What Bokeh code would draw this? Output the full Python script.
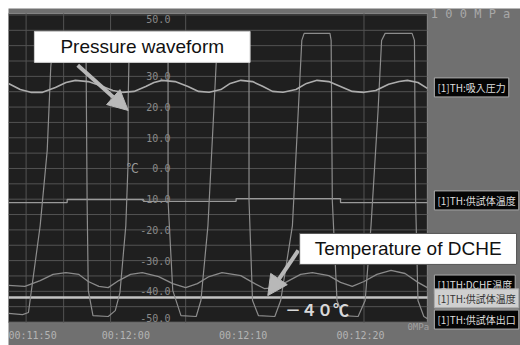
from bokeh.plotting import figure
from bokeh.models import Range1d, Label, Arrow, NormalHead
from bokeh.embed import file_html
from bokeh.resources import INLINE
from bokeh.core.properties import value

# ---------------- data ----------------
time_ticks = [710, 720, 730, 740]
time_labels = ["00:11:50", "00:12:00", "00:12:10", "00:12:20"]
temp_ticks = [40, 30, 20, 10, 0, -10, -20, -30, -40]
temp_top, temp_bottom = 50, -50
grid_times = [711.5, 714.7, 718.7, 725.1, 740.3]
grid_temps = list(range(-50, 51, 5))

# recorder window (time span shown, temperature span shown)
t_start, t_end = 710.0, 745.7
v_low, v_high = -50.2, 50.5

# pressure waveform (MPa, 0..100 MPa scale)
press_t = [710.0, 711.0, 711.9, 712.9, 714.0, 714.9, 715.7, 716.8, 717.8, 718.9,
           719.7, 720.7, 721.7, 722.4, 723.1, 724.2, 725.3, 726.2, 727.1, 728.1,
           728.9, 729.8, 730.8, 731.7, 732.5, 733.4, 734.5, 735.4, 736.3, 737.3,
           738.3, 739.3, 740.3, 741.3, 742.4, 743.3, 744.0, 744.9, 745.7]
press_mpa = [77.7, 75.7, 74.8, 74.8, 76.4, 78.0, 78.7, 78.3, 77.0, 75.4,
             74.8, 75.1, 76.7, 78.0, 78.7, 78.3, 76.7, 75.1, 74.8, 75.7,
             77.7, 78.7, 78.3, 76.7, 75.1, 74.8, 75.7, 77.7, 78.7, 78.3,
             76.7, 75.1, 74.8, 75.4, 77.4, 78.3, 78.7, 78.0, 76.1]

# specimen temperature (square-ish cycling)
t1_t = [710.0, 711.2, 711.7, 712.7, 713.3, 713.6, 713.8, 714.0, 716.5, 716.6,
        716.7, 716.8, 717.2, 718.5, 719.1, 719.5, 720.0, 720.2, 720.2, 720.3,
        720.5, 723.5, 723.6, 723.6, 724.0, 724.7, 726.0, 726.4, 727.0, 727.5,
        727.8, 727.9, 730.4, 730.5, 730.5, 730.8, 731.3, 732.7, 733.2, 734.2,
        734.7, 735.0, 735.2, 737.4, 737.5, 737.6, 738.0, 738.5, 739.8, 740.4,
        740.9, 741.5, 741.8, 742.1, 744.4, 744.6, 744.7, 744.9, 745.4, 745.7]
t1_v = [-47.2, -47.6, -46.9, -18.6, 5.9, 32.9, 41.7, 44.0, 44.0, 41.7,
        -10.4, -39.7, -47.9, -48.2, -46.3, -40.4, -18.6, 2.6, 22.1, 41.7,
        44.0, 44.0, 41.7, -10.4, -39.7, -47.9, -48.2, -43.0, -18.6, 18.9,
        41.7, 44.0, 44.0, 41.7, -10.4, -43.0, -47.9, -48.2, -43.0, -18.6,
        18.9, 41.7, 44.0, 44.0, 41.7, -10.4, -43.0, -47.9, -48.2, -43.0,
        -18.6, 18.9, 41.7, 44.0, 44.0, 41.7, -10.4, -43.0, -48.2, -48.9]

# DCHE temperature
dche_t = [710.0, 711.4, 712.7, 713.8, 714.9, 716.0, 716.8, 717.7, 718.5, 719.4,
          720.4, 721.4, 722.8, 724.0, 725.1, 726.1, 727.1, 728.2, 729.8, 730.8,
          731.8, 732.8, 733.9, 734.9, 735.9, 737.3, 738.3, 739.3, 740.3, 741.4,
          742.6, 743.8, 744.9, 745.7]
dche_v = [-38.1, -38.4, -36.5, -34.5, -33.9, -34.5, -36.8, -38.4, -38.8, -36.5,
          -34.5, -33.9, -35.2, -37.5, -38.8, -37.5, -35.2, -33.9, -34.9, -37.1,
          -39.1, -38.8, -36.5, -34.5, -33.9, -34.9, -37.1, -38.4, -36.8, -34.5,
          -33.2, -34.2, -37.1, -38.8]

# near-constant channel
flat_t = [710.0, 715.0, 721.5, 729.4, 738.3, 745.7]
flat_v = [-11.1, -10.1, -10.7, -9.8, -11.1, -11.1]

# -40 C reference line
ref_t = [710.0, 745.7]
ref_v = [-42.0, -42.0]

channel_names = ["[1]TH:吸入圧力", "[1]TH:供試体温度", "[1]TH:DCHE温度",
                 "[1]TH:供試体温度", "[1]TH:供試体出口"]
channel_y = [26.4, -10.4, -37.8, -42.3, -49.2]

# ---------------- figure ----------------
FRAME_BG = "#1f1f1f"
PANEL_BG = "#707070"
GRID = "#535353"

# whole canvas is the frame: recorder area + grey side/bottom panels
x_lo, x_hi = 710.0, 753.64
y_lo, y_hi = -57.65, 52.1

p = figure(width=512, height=337, output_backend="svg", toolbar_location=None,
           x_range=Range1d(x_lo, x_hi), y_range=Range1d(y_lo, y_hi),
           x_axis_location=None, y_axis_location=None, margin=(8, 0, 0, 8),
           min_border_left=0, min_border_right=0, min_border_top=0, min_border_bottom=0)
p.extra_y_ranges = {"press": Range1d(y_lo + 50, y_hi + 50)}
p.background_fill_color = PANEL_BG
p.border_fill_color = PANEL_BG
p.outline_line_color = None
p.grid.visible = False

# dark recorder area
p.quad(left=[t_start], right=[t_end], bottom=[v_low], top=[v_high],
       fill_color=FRAME_BG, line_color="#8a8a8a", line_width=1)

# grid
p.segment(x0=grid_times, y0=[v_low] * len(grid_times), x1=grid_times,
          y1=[v_high] * len(grid_times), line_color=GRID, line_width=1)
p.segment(x0=[t_start] * len(grid_temps), y0=grid_temps, x1=[t_end] * len(grid_temps),
          y1=grid_temps, line_color=GRID, line_width=1)

# traces
p.line(ref_t, ref_v, line_color="#c4c4c4", line_width=2.5)
p.step(flat_t, flat_v, mode="after", line_color="#9a9a9a", line_width=1.3)
p.line(dche_t, dche_v, line_color="#8a8a8a", line_width=1.3)
p.line(t1_t, t1_v, line_color="#8c8c8c", line_width=1.2)
p.line(press_t, press_mpa, y_range_name="press", line_color="#adadad", line_width=1.6)

# in-plot scale labels
lab_x = 723.8
mono = value("DejaVu Sans Mono")
p.text([lab_x] * len(temp_ticks), temp_ticks, text=["%.1f" % v for v in temp_ticks],
       text_align="right", text_baseline="middle", text_font=mono,
       text_font_size="10px", text_color="#8a8a8a")
p.text([lab_x], [temp_top], text=["%.1f" % temp_top], text_align="right", text_baseline="top",
       text_font=mono, text_font_size="10px", text_color="#8a8a8a")
p.text([lab_x], [temp_bottom], text=["%.1f" % temp_bottom], text_align="right",
       text_baseline="bottom", text_font=mono, text_font_size="10px", text_color="#8a8a8a")
p.text([720.6], [0.3], text=["℃"], text_align="center", text_baseline="middle",
       text_font=value("Noto Sans CJK JP"), text_font_size="12px", text_color="#9a9a9a")

# time labels in the bottom strip
time_row = -54.4
p.text(time_ticks[:1], [time_row], text=time_labels[:1], text_align="left",
       text_baseline="middle", text_font=mono, text_font_size="10px", text_color="#b4b4b4")
p.text(time_ticks[1:], [time_row] * (len(time_ticks) - 1), text=time_labels[1:],
       text_align="center", text_baseline="middle", text_font=mono, text_font_size="10px",
       text_color="#b4b4b4")

# -40C marker text
p.add_layout(Label(x=736.3, y=-45.9, text="－４０℃", text_align="center", text_baseline="middle",
                   text_font="Noto Sans CJK JP", text_font_style="bold", text_font_size="16px",
                   text_color="#d8d8d8"))

# arrows
head_col = "#b8b8b8"
p.add_layout(Arrow(end=NormalHead(size=20, fill_color=head_col, line_color=head_col),
                   x_start=715.9, y_start=33.6, x_end=720.2, y_end=18.9,
                   line_color=head_col, line_width=4))
p.add_layout(Arrow(end=NormalHead(size=20, fill_color=head_col, line_color=head_col),
                   x_start=734.7, y_start=-26.7, x_end=732.1, y_end=-41.4,
                   line_color=head_col, line_width=4))

# callout boxes
p.add_layout(Label(x=721.4, y=39.6, text="Pressure waveform", text_align="center",
                   text_baseline="middle", text_font="Liberation Sans", text_font_size="19px",
                   text_color="#111111", background_fill_color="white",
                   border_line_color="#d0d0d0", padding=(26, 5)))
p.add_layout(Label(x=744.06, y=-26.2, text="Temperature of DCHE", text_align="center",
                   text_baseline="middle", text_font="Liberation Sans", text_font_size="19px",
                   text_color="#111111", background_fill_color="white",
                   border_line_color="#555555", padding=(15, 5)))

# right panel channel tags
for i, (name, yv) in enumerate(zip(channel_names, channel_y)):
    sel = (i == 3)
    p.add_layout(Label(x=746.3, y=yv, text=name, text_align="left", text_baseline="middle",
                       text_font="Noto Sans CJK JP", text_font_size="10px",
                       text_color="#333333" if sel else "#dddddd",
                       background_fill_color="#cfcfcf" if sel else "#050505",
                       border_line_color="#aaaaaa", padding=(3, 2)))

# scale end labels
p.add_layout(Label(x=746.0, y=50.2, text="1 0 0 M P a", text_align="left", text_baseline="middle",
                   text_font="DejaVu Sans Mono", text_font_size="12px", text_color="#a8a8a8"))
p.add_layout(Label(x=744.0, y=-51.6, text="0MPa", text_align="left", text_baseline="middle",
                   text_font="DejaVu Sans Mono", text_font_size="9px", text_color="#a0a0a0"))

open("out.html", "w").write(file_html(p, INLINE))
